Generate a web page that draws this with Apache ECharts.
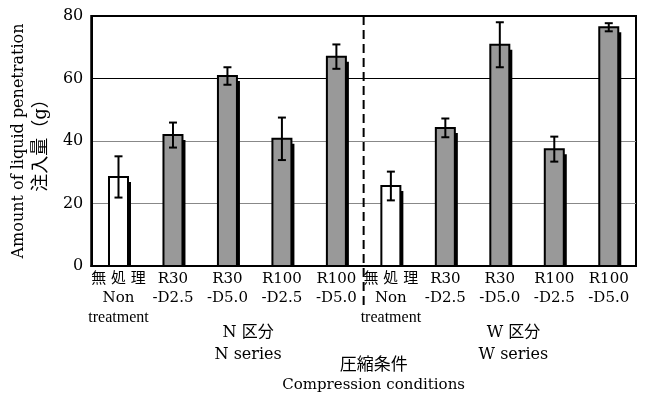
<!DOCTYPE html>
<html>
<head>
<meta charset="utf-8">
<script src="https://cdn.jsdelivr.net/npm/echarts@6/dist/echarts.min.js"></script>
<style>
  html, body { margin: 0; padding: 0; background: #fff; }
  #chart { width: 645px; height: 398px; }
</style>
</head>
<body>
<div id="chart"></div>
<script>
var categories = [
  '無 処 理\nNon\ntreatment', 'R30\n-D2.5', 'R30\n-D5.0', 'R100\n-D2.5', 'R100\n-D5.0',
  '無 処 理\nNon\ntreatment', 'R30\n-D2.5', 'R30\n-D5.0', 'R100\n-D2.5', 'R100\n-D5.0'
];
var means = [28.5, 41.9, 60.8, 40.7, 67.0, 25.6, 44.2, 70.8, 37.4, 76.4];
var errs = [6.6, 4.0, 2.8, 6.8, 3.9, 4.6, 3.0, 7.2, 4.0, 1.3];
var yTicks = [0, 20, 40, 60, 80];
var groupNames = ['N 区分\nN series', 'W 区分\nW series'];

var serif = "'DejaVu Serif', 'Noto Sans CJK JP'";
var chartDiv = document.getElementById('chart');
var chart = echarts.init(chartDiv, null, { renderer: 'canvas' });

var data = [];
for (let i = 0; i < means.length; i++) {
  data.push([i, means[i], errs[i]]);
}

option = {
  animation: false,
  grid: {
    left: 91, right: 9, top: 16, bottom: 132,
    show: true, borderColor: '#000', borderWidth: 2
  },
  xAxis: {
    type: 'category',
    data: categories,
    axisTick: { show: false },
    axisLine: { lineStyle: { color: '#000', width: 2 } },
    axisLabel: {
      interval: 0,
      margin: 4,
      color: '#000',
      fontFamily: serif,
      fontSize: 15,
      lineHeight: 19,
      formatter: function (v) {
        return v.replace('treatment', '{t|treatment}');
      },
      rich: {
        t: { fontFamily: "'Liberation Serif'", fontSize: 16, lineHeight: 19, color: '#000' }
      }
    }
  },
  yAxis: {
    type: 'value',
    min: yTicks[0],
    max: yTicks[yTicks.length - 1],
    interval: 20,
    name: '{a|Amount of liquid penetration}\n{b|注入量（g）}',
    nameLocation: 'middle',
    nameGap: 33,
    nameTextStyle: {
      fontFamily: serif, fontSize: 16, lineHeight: 22, color: '#000',
      rich: {
        a: { fontFamily: serif, fontSize: 16, lineHeight: 22, color: '#000' },
        b: { fontFamily: serif, fontSize: 18, lineHeight: 22, color: '#000' }
      }
    },
    axisLine: { show: true, lineStyle: { color: '#000', width: 2 } },
    axisTick: { show: false },
    axisLabel: { color: '#000', fontFamily: serif, fontSize: 16, margin: 8 },
    splitLine: { lineStyle: { color: ['#000', '#888', '#888', '#000', '#000'], width: 1 } }
  },
  series: [
    {
      type: 'custom',
      data: data,
      encode: { x: 0, y: 1 },
      renderItem: function (params, api) {
        var i = api.value(0), m = api.value(1), e = api.value(2);
        var top = api.coord([i, m]);
        var base = api.coord([i, 0]);
        var hi = api.coord([i, m + e]);
        var lo = api.coord([i, m - e]);
        var w = 19;
        var x0 = top[0] - w / 2;
        var fill = categories[i].indexOf('無') === 0 ? '#fff' : '#999';
        var cap = 4;
        return {
          type: 'group',
          children: [
            { type: 'rect', shape: { x: x0 + 3, y: top[1] + 5, width: w, height: base[1] - top[1] - 5 }, style: { fill: '#000' } },
            { type: 'rect', shape: { x: x0, y: top[1], width: w, height: base[1] - top[1] }, style: { fill: fill, stroke: '#000', lineWidth: 2 } },
            { type: 'line', shape: { x1: top[0], y1: hi[1], x2: top[0], y2: lo[1] }, style: { stroke: '#000', lineWidth: 2 } },
            { type: 'line', shape: { x1: top[0] - cap, y1: hi[1], x2: top[0] + cap, y2: hi[1] }, style: { stroke: '#000', lineWidth: 2 } },
            { type: 'line', shape: { x1: top[0] - cap, y1: lo[1], x2: top[0] + cap, y2: lo[1] }, style: { stroke: '#000', lineWidth: 2 } }
          ]
        };
      }
    }
  ]
};

chart.setOption(option);

// divider and group titles placed from the axis positions
var px = function (i) { return chart.convertToPixel({ xAxisIndex: 0 }, i); };
var yTop = chart.convertToPixel({ yAxisIndex: 0 }, 80);
var yZero = chart.convertToPixel({ yAxisIndex: 0 }, 0);
var divX = (px(4) + px(5)) / 2;
var step = px(1) - px(0);

chart.setOption({
  graphic: [
    {
      type: 'line',
      shape: { x1: divX, y1: yTop, x2: divX, y2: yZero + 39 },
      style: { stroke: '#000', lineWidth: 2, lineDash: [9, 5] },
      z: 10
    },
    {
      type: 'text', x: px(2) + step * 0.38, y: yZero + 78,
      style: { text: groupNames[0], fontFamily: serif, fontSize: 16, lineHeight: 22, fill: '#000', align: 'center', verticalAlign: 'middle' }
    },
    {
      type: 'text', x: px(7) + step * 0.25, y: yZero + 78,
      style: { text: groupNames[1], fontFamily: serif, fontSize: 16, lineHeight: 22, fill: '#000', align: 'center', verticalAlign: 'middle' }
    },
    {
      type: 'text', x: divX + 10, y: yZero + 109,
      style: {
        text: '{j|圧縮条件}\n{e|Compression conditions}',
        align: 'center', verticalAlign: 'middle',
        rich: {
          j: { fontFamily: serif, fontSize: 17, lineHeight: 20, fill: '#000' },
          e: { fontFamily: serif, fontSize: 15, lineHeight: 19, fill: '#000' }
        }
      }
    }
  ]
});

window.addEventListener('resize', function () {
  setTimeout(function () { chart.resize(); }, 200);
});
</script>
</body>
</html>
